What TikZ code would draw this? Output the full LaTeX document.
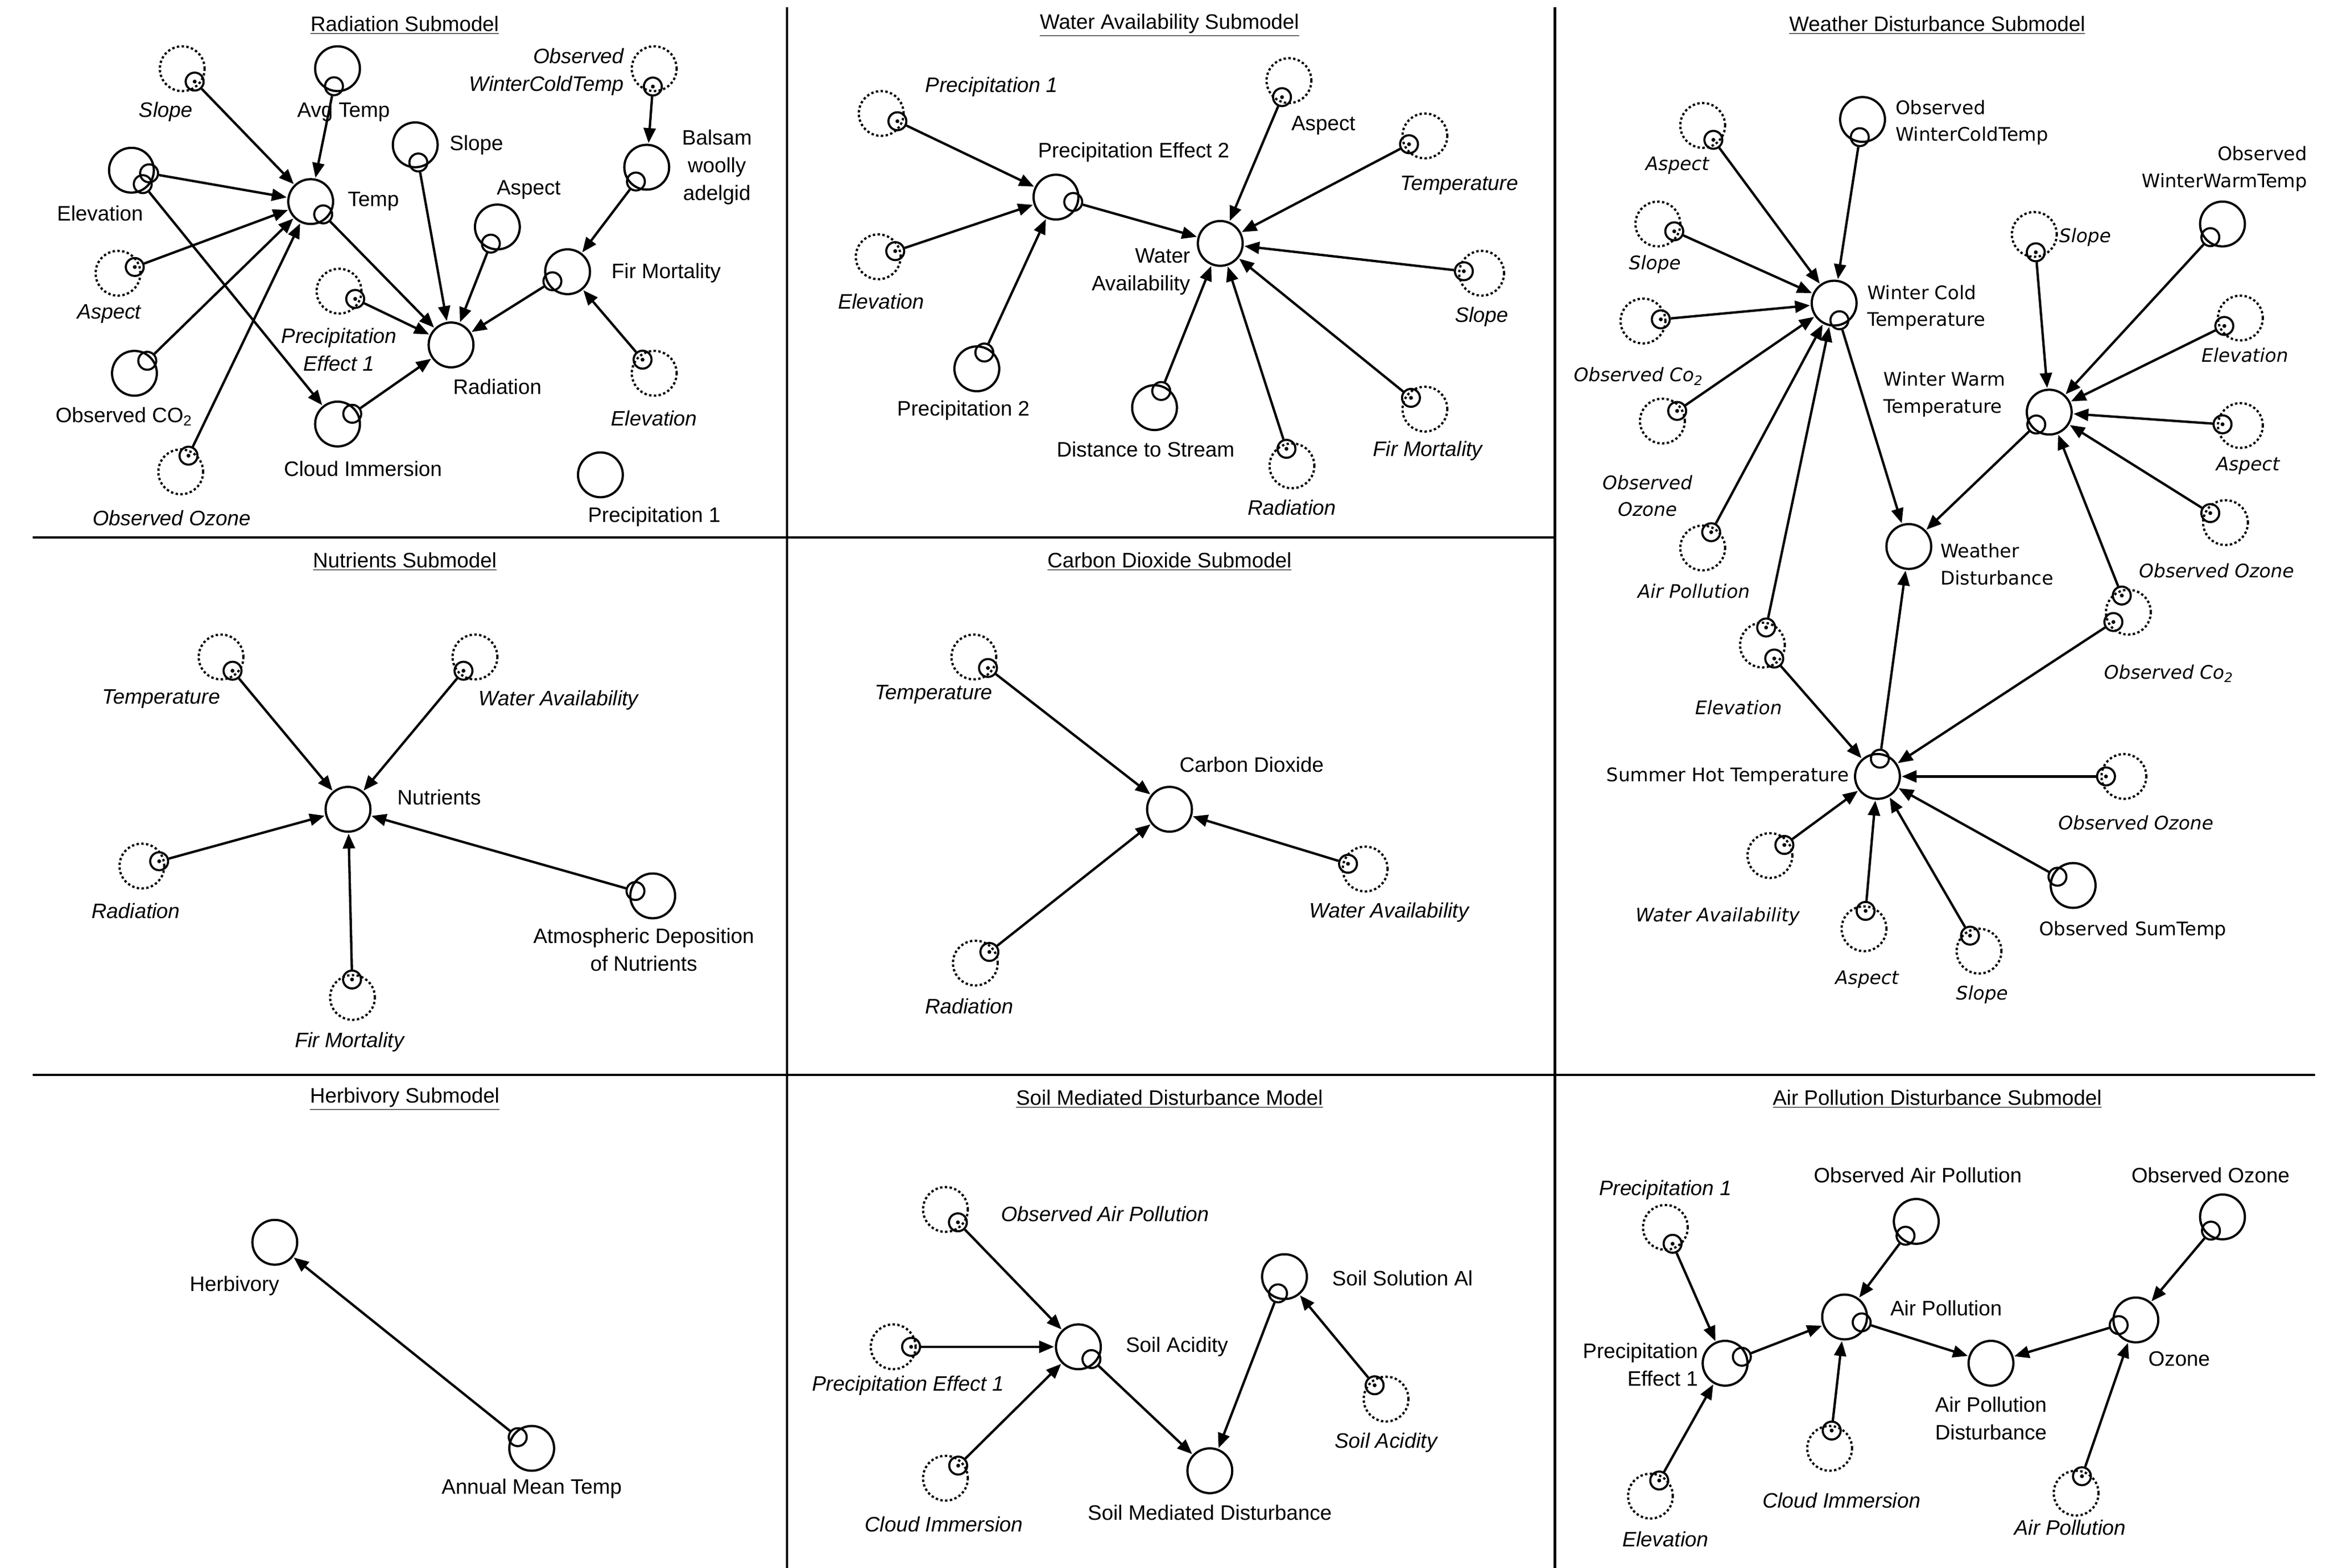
\documentclass[tikz,border=0pt]{standalone}
\usepackage{fontspec}
\setmainfont{Liberation Sans}
\newfontfamily\wfont{DejaVu Sans}
\usetikzlibrary{calc,arrows.meta}
\newcommand\E[2]{\node[smc] (#1-#2) at ($(#1)!12pt!(#2)$) {};\draw[arr] (#1-#2) -- (#2);}
\newcommand\D[2]{\node[smc] (#1-#2) at ($(#1)!12pt!(#2)$) {};\fill (#1-#2) circle (1.3pt);\draw[arr] (#1-#2) -- (#2);}
\begin{document}
\begin{tikzpicture}[x=1pt,y=-1pt,
 big/.style={circle,draw,line width=1.5pt,minimum size=30pt,inner sep=0pt},
 bigd/.style={big,dash pattern=on 1.6pt off 1.6pt},
 smc/.style={circle,draw,line width=1.4pt,minimum size=12pt,inner sep=0pt},
 arr/.style={line width=1.6pt,-{Triangle[length=10pt,width=8pt]},shorten >=0.5pt},
 lab/.style={font=\fontsize{14}{18.5}\selectfont,inner sep=0pt,align=center},
 labi/.style={lab,font=\fontsize{14}{18.5}\selectfont\itshape},
 wl/.style={font=\wfont\fontsize{12.5}{18}\selectfont,inner sep=0pt,align=center},
 wli/.style={font=\wfont\fontsize{12.5}{18}\selectfont\itshape,inner sep=0pt,align=center},
 ttl/.style={lab}]
\useasboundingbox (0,0) rectangle (1560,1050);
\fill[white] (0,0) rectangle (1560,1050);
% grid
\draw[line width=1.6pt] (527,5) -- (527,1050) (1041,5) -- (1041,1050)
  (22,360) -- (1041,360) (22,720) -- (1550,720);
% titles
\node[ttl] (t1) at (271,17) {\underline{Radiation Submodel}};
\node[ttl] (t2) at (783,17) {\underline{Water Availability Submodel}};
\node[ttl] (t3) at (1297,17) {\underline{Weather Disturbance Submodel}};
\node[ttl] (t4) at (271,376) {\underline{Nutrients Submodel}};
\node[ttl] (t5) at (783,376) {\underline{Carbon Dioxide Submodel}};
\node[ttl] (t6) at (271,736) {\underline{Herbivory Submodel}};
\node[ttl] (t7) at (783,736) {\underline{Soil Mediated Disturbance Model}};
\node[ttl] (t8) at (1297,736) {\underline{Air Pollution Disturbance Submodel}};
% ---------- Radiation
\node[bigd] (rslope) at (122,46) {}; \node[labi] (rslopeL) at (111,75) {Slope};
\node[big] (ravg) at (226,46) {}; \node[lab] (ravgL) at (230,75) {Avg Temp};
\node[big] (relev) at (88,114) {}; \node[lab] (relevL) at (67,143) {Elevation};
\node[big] (rtemp) at (208,135) {}; \node[lab] (rtempL) at (250,135) {Temp};
\node[big] (rslope2) at (278,97) {}; \node[lab] (rslope2L) at (319,97) {Slope};
\node[big] (rasp) at (333,152) {}; \node[lab] (raspL) at (354,127) {Aspect};
\node[bigd] (raspd) at (79,183) {}; \node[labi] (raspdL) at (73,210) {Aspect};
\node[bigd] (rpe) at (227,195) {}; \node[labi] (rpeL) at (227,234) {Precipitation\\Effect 1};
\node[big] (rrad) at (302,231) {}; \node[lab] (rradL) at (333,259) {Radiation};
\node[big] (rco) at (90,250) {}; \node[lab] (rcoL) at (83,279) {Observed CO\textsubscript{2}};
\node[big] (rcloud) at (226,284) {}; \node[lab] (rcloudL) at (243,314) {Cloud Immersion};
\node[bigd] (roz) at (121,316) {}; \node[labi] (rozL) at (115,347) {Observed Ozone};
\node[bigd] (rowct) at (438,46) {}; \node[labi,anchor=east,align=right] (rowctL) at (418,48) {Observed\\WinterColdTemp};
\node[big] (rbal) at (433,112) {}; \node[lab] (rbalL) at (480,112) {Balsam\\woolly\\adelgid};
\node[big] (rfir) at (380,182) {}; \node[lab] (rfirL) at (446,183) {Fir Mortality};
\node[bigd] (relevd) at (438,250) {}; \node[labi] (relevdL) at (438,280) {Elevation};
\node[big] (rp1) at (402,318) {}; \node[lab] (rp1L) at (438,346) {Precipitation 1};
\D{rslope}{rtemp} \E{ravg}{rtemp} \E{relev}{rtemp} \E{relev}{rcloud}
\D{raspd}{rtemp} \E{rco}{rtemp} \D{roz}{rtemp} \E{rtemp}{rrad}
\E{rslope2}{rrad} \E{rasp}{rrad} \D{rpe}{rrad} \E{rcloud}{rrad}
\E{rfir}{rrad} \D{rowct}{rbal} \E{rbal}{rfir} \D{relevd}{rfir}
% ---------- Water availability
\node[bigd] (wp1) at (590,76) {}; \node[labi] (wp1L) at (664,58) {Precipitation 1};
\node[bigd] (welev) at (588,172) {}; \node[labi] (welevL) at (590,202) {Elevation};
\node[big] (wpe) at (707,132) {}; \node[lab] (wpeL) at (759,102) {Precipitation Effect 2};
\node[big] (wp2) at (654,247) {}; \node[lab] (wp2L) at (645,275) {Precipitation 2};
\node[big] (wwa) at (817,163) {}; \node[lab,anchor=east,align=right] (wwaL) at (797,182) {Water\\Availability};
\node[bigd] (wasp) at (863,54) {}; \node[lab] (waspL) at (886,84) {Aspect};
\node[bigd] (wtemp) at (954,91) {}; \node[labi] (wtempL) at (977,124) {Temperature};
\node[bigd] (wslope) at (992,183) {}; \node[labi] (wslopeL) at (992,212) {Slope};
\node[bigd] (wfir) at (954,274) {}; \node[labi] (wfirL) at (956,302) {Fir Mortality};
\node[bigd] (wrad) at (865,312) {}; \node[labi] (wradL) at (865,340) {Radiation};
\node[big] (wds) at (773,273) {}; \node[lab] (wdsL) at (767,301) {Distance to Stream};
\D{wp1}{wpe} \D{welev}{wpe} \E{wp2}{wpe} \E{wpe}{wwa} \D{wasp}{wwa} \D{wtemp}{wwa}
\D{wslope}{wwa} \D{wfir}{wwa} \D{wrad}{wwa} \E{wds}{wwa}
% ---------- Weather disturbance
\node[bigd] (xasp) at (1140,84) {}; \node[wli] (xaspL) at (1123,111) {Aspect};
\node[bigd] (xslope) at (1110,150) {}; \node[wli] (xslopeL) at (1108,177) {Slope};
\node[bigd] (xco) at (1100,215) {}; \node[wli] (xcoL) at (1097,252) {Observed Co\textsubscript{2}};
\node[bigd] (xoz) at (1113,282) {}; \node[wli] (xozL) at (1103,332) {Observed\\Ozone};
\node[bigd] (xap) at (1140,367) {}; \node[wli] (xapL) at (1134,396) {Air Pollution};
\node[big] (xowct) at (1247,80) {}; \node[wl,anchor=west,align=left] (xowctL) at (1269,82) {Observed\\WinterColdTemp};
\node[big] (xwct) at (1228,203) {}; \node[wl,anchor=west,align=left] (xwctL) at (1250,206) {Winter Cold\\Temperature};
\node[big] (xwwt) at (1372,276) {}; \node[wl,anchor=west,align=left] (xwwtL) at (1261,264) {Winter Warm\\Temperature};
\node[bigd] (xslope2) at (1362,157) {}; \node[wli] (xslope2L) at (1396,159) {Slope};
\node[big] (xowwt) at (1488,150) {}; \node[wl,align=right,anchor=east] (xowwtL) at (1545,113) {Observed\\WinterWarmTemp};
\node[bigd] (xelev) at (1500,213) {}; \node[wli] (xelevL) at (1503,238) {Elevation};
\node[bigd] (xasp2) at (1500,285) {}; \node[wli] (xasp2L) at (1505,312) {Aspect};
\node[bigd] (xoz2) at (1490,350) {}; \node[wli] (xoz2L) at (1484,382) {Observed Ozone};
\node[big] (xwd) at (1278,366) {}; \node[wl,anchor=west,align=left] (xwdL) at (1299,378) {Weather\\Disturbance};
\node[bigd] (xco2) at (1425,410) {}; \node[wli] (xco2L) at (1452,451) {Observed Co\textsubscript{2}};
\node[bigd] (xelev2) at (1180,432) {}; \node[wli] (xelev2L) at (1164,474) {Elevation};
\node[big] (xsht) at (1257,520) {}; \node[wl,anchor=east] (xshtL) at (1238,520) {Summer Hot Temperature};
\node[bigd] (xoz3) at (1422,520) {}; \node[wli] (xoz3L) at (1430,551) {Observed Ozone};
\node[bigd] (xwa) at (1185,573) {}; \node[wli] (xwaL) at (1150,614) {Water Availability};
\node[bigd] (xasp3) at (1248,622) {}; \node[wli] (xasp3L) at (1250,656) {Aspect};
\node[bigd] (xslope3) at (1325,637) {}; \node[wli] (xslope3L) at (1327,666) {Slope};
\node[big] (xost) at (1388,593) {}; \node[wl] (xostL) at (1428,623) {Observed SumTemp};
\D{xasp}{xwct} \D{xslope}{xwct} \D{xco}{xwct} \D{xoz}{xwct} \D{xap}{xwct}
\E{xowct}{xwct} \D{xelev2}{xwct} \E{xwct}{xwd} \E{xwwt}{xwd} \E{xsht}{xwd}
\D{xslope2}{xwwt} \E{xowwt}{xwwt} \D{xelev}{xwwt} \D{xasp2}{xwwt} \D{xoz2}{xwwt}
\D{xco2}{xwwt} \D{xco2}{xsht} \D{xelev2}{xsht} \D{xoz3}{xsht} \D{xwa}{xsht}
\D{xasp3}{xsht} \D{xslope3}{xsht} \E{xost}{xsht}
% ---------- Nutrients
\node[bigd] (ntemp) at (148,440) {}; \node[labi] (ntempL) at (108,468) {Temperature};
\node[bigd] (nwa) at (318,440) {}; \node[labi] (nwaL) at (374,469) {Water Availability};
\node[big] (nn) at (233,542) {}; \node[lab] (nnL) at (294,534) {Nutrients};
\node[bigd] (nrad) at (95,580) {}; \node[labi] (nradL) at (91,610) {Radiation};
\node[bigd] (nfir) at (236,668) {}; \node[labi] (nfirL) at (234,698) {Fir Mortality};
\node[big] (nad) at (437,600) {}; \node[lab] (nadL) at (431,636) {Atmospheric Deposition\\of Nutrients};
\D{ntemp}{nn} \D{nwa}{nn} \D{nrad}{nn} \D{nfir}{nn} \E{nad}{nn}
% ---------- Carbon dioxide
\node[bigd] (ctemp) at (652,440) {}; \node[labi] (ctempL) at (625,465) {Temperature};
\node[big] (cc) at (783,542) {}; \node[lab] (ccL) at (838,512) {Carbon Dioxide};
\node[bigd] (cwa) at (914,582) {}; \node[labi] (cwaL) at (930,611) {Water Availability};
\node[bigd] (crad) at (653,645) {}; \node[labi] (cradL) at (649,674) {Radiation};
\D{ctemp}{cc} \D{cwa}{cc} \D{crad}{cc}
% ---------- Herbivory
\node[big] (hh) at (184,832) {}; \node[lab] (hhL) at (157,861) {Herbivory};
\node[big] (hamt) at (356,970) {}; \node[lab] (hamtL) at (356,997) {Annual Mean Temp};
\E{hamt}{hh}
% ---------- Soil
\node[bigd] (soap) at (633,810) {}; \node[labi] (soapL) at (740,813) {Observed Air Pollution};
\node[bigd] (spe) at (598,902) {}; \node[labi] (speL) at (608,928) {Precipitation Effect 1};
\node[bigd] (sci) at (633,990) {}; \node[labi] (sciL) at (632,1021) {Cloud Immersion};
\node[big] (ssa) at (722,902) {}; \node[lab] (ssaL) at (788,902) {Soil Acidity};
\node[big] (ssal) at (860,855) {}; \node[lab] (ssalL) at (939,856) {Soil Solution Al};
\node[bigd] (ssad) at (928,937) {}; \node[labi] (ssadL) at (928,966) {Soil Acidity};
\node[big] (ssmd) at (810,985) {}; \node[lab] (ssmdL) at (810,1013) {Soil Mediated Disturbance};
\D{soap}{ssa} \D{spe}{ssa} \D{sci}{ssa} \E{ssa}{ssmd} \E{ssal}{ssmd} \D{ssad}{ssal}
% ---------- Air pollution
\node[bigd] (ap1) at (1115,822) {}; \node[labi] (ap1L) at (1115,797) {Precipitation 1};
\node[big] (aoap) at (1283,818) {}; \node[lab] (aoapL) at (1284,787) {Observed Air Pollution};
\node[big] (aoo) at (1488,815) {}; \node[lab] (aooL) at (1480,787) {Observed Ozone};
\node[big] (ape) at (1155,913) {}; \node[lab,anchor=east,align=right] (apeL) at (1137,914) {Precipitation\\Effect 1};
\node[big] (aap) at (1235,882) {}; \node[lab] (aapL) at (1303,876) {Air Pollution};
\node[big] (aoz) at (1430,884) {}; \node[lab] (aozL) at (1459,910) {Ozone};
\node[big] (aapd) at (1333,913) {}; \node[lab] (aapdL) at (1333,950) {Air Pollution\\Disturbance};
\node[bigd] (aelev) at (1105,1002) {}; \node[labi] (aelevL) at (1115,1031) {Elevation};
\node[bigd] (aci) at (1225,970) {}; \node[labi] (aciL) at (1233,1005) {Cloud Immersion};
\node[bigd] (aapd2) at (1390,1000) {}; \node[labi] (aapd2L) at (1386,1023) {Air Pollution};
\D{ap1}{ape} \D{aelev}{ape} \E{ape}{aap} \E{aoap}{aap} \D{aci}{aap} \E{aap}{aapd}
\E{aoz}{aapd} \E{aoo}{aoz} \D{aapd2}{aoz}
\end{tikzpicture}
\end{document}
